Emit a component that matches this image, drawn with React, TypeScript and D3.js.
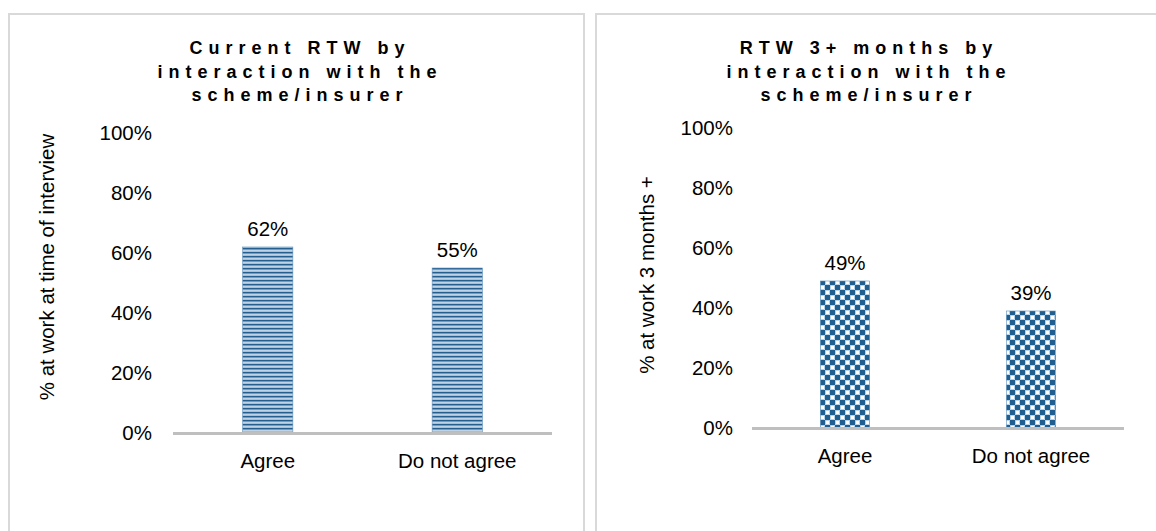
import React from "react";
import * as d3 from "d3";

const categories = ["Agree", "Do not agree"];
const currentRTW = [0.62, 0.55];
const rtw3Months = [0.49, 0.39];
const yTicks = [0, 0.2, 0.4, 0.6, 0.8, 1.0];
const leftTitle = ["Current RTW by", "interaction with the", "scheme/insurer"];
const rightTitle = ["RTW 3+ months by", "interaction with the", "scheme/insurer"];
const leftYLabel = "% at work at time of interview";
const rightYLabel = "% at work 3 months +";

const FONT = "'Liberation Sans', Arial, Helvetica, sans-serif";
const FS = 20.5;

type PanelProps = {
  values: number[];
  title: string[];
  yLabel: string;
  x0: number;
  x1: number;
  yTop: number;
  yBottom: number;
  tickRight: number;
  yLabelX: number;
  yLabelY: number;
  titleX: number;
  fill: string;
};

function Panel(p: PanelProps) {
  const x = d3.scaleBand<string>().domain(categories).range([p.x0, p.x1]).padding(0);
  const y = d3.scaleLinear().domain([0, 1]).range([p.yBottom, p.yTop]);
  const bw = x.step() * 0.265;
  const fmt = d3.format(".0%");
  return (
    <g fontFamily={FONT}>
      {p.title.map((t, i) => (
        <text
          key={i}
          x={p.titleX + 3}
          y={54 + i * 23.5}
          textAnchor="middle"
          fontSize={18}
          fontWeight="bold"
          letterSpacing={6}
          fill="#000"
        >
          {t}
        </text>
      ))}
      {yTicks.map((t) => (
        <text key={t} x={p.tickRight} y={y(t) + 7} textAnchor="end" fontSize={FS} fill="#000">
          {fmt(t)}
        </text>
      ))}
      {categories.map((c, i) => {
        const cx = (x(c) as number) + x.bandwidth() / 2;
        const v = p.values[i];
        return (
          <g key={c}>
            <rect x={cx - bw / 2} y={y(v)} width={bw} height={y(0) - y(v)} fill={p.fill} stroke="#5d8fbb" strokeWidth={0.6} />
            <text x={cx} y={y(v) - 11} textAnchor="middle" fontSize={FS} fill="#000">
              {fmt(v)}
            </text>
            <text x={cx} y={p.yBottom + 35} textAnchor="middle" fontSize={FS} fill="#000">
              {c}
            </text>
          </g>
        );
      })}
      <line x1={p.x0} x2={p.x1} y1={y(0) + 0.5} y2={y(0) + 0.5} stroke="#bfbfbf" strokeWidth={3} />
      <text
        transform={`translate(${p.yLabelX},${p.yLabelY}) rotate(-90)`}
        textAnchor="middle"
        fontSize={FS}
        fill="#000"
      >
        {p.yLabel}
      </text>
    </g>
  );
}

export default function App() {
  return (
    <svg
      width={1156}
      height={531}
      viewBox="0 0 1156 531"
      style={{ position: "absolute", left: 0, top: 0, display: "block", background: "#fff" }}
    >
      <defs>
        <pattern id="stripes" patternUnits="userSpaceOnUse" width={8} height={4}>
          <rect x={0} y={0} width={8} height={4} fill="#f4f8fb" />
          <rect x={0} y={0} width={8} height={1.6} fill="#245f90" />
          <rect x={0} y={1.6} width={8} height={0.8} fill="#6f9cc2" />
          <rect x={0} y={3.2} width={8} height={0.8} fill="#8fb4d3" />
        </pattern>
        <pattern id="checks" patternUnits="userSpaceOnUse" width={10} height={10}>
          <rect x={0} y={0} width={10} height={10} fill="#ffffff" />
          <rect x={0} y={0} width={5} height={5} fill="#1f5e8e" />
          <rect x={5} y={5} width={5} height={5} fill="#1f5e8e" />
          <rect x={5.5} y={0.5} width={4} height={4} fill="none" stroke="#a9c8e0" strokeWidth={0.8} />
          <rect x={0.5} y={5.5} width={4} height={4} fill="none" stroke="#a9c8e0" strokeWidth={0.8} />
        </pattern>
      </defs>
      <rect x={0} y={0} width={1156} height={531} fill="#fff" />
      <rect x={9} y={14} width={575} height={600} fill="#fff" stroke="#d9d9d9" strokeWidth={2} />
      <rect x={596} y={14} width={600} height={600} fill="#fff" stroke="#d9d9d9" strokeWidth={2} />
      <Panel
        values={currentRTW}
        title={leftTitle}
        yLabel={leftYLabel}
        x0={173}
        x1={552}
        yTop={133}
        yBottom={433}
        tickRight={152}
        yLabelX={54}
        yLabelY={267}
        titleX={297}
        fill="url(#stripes)"
      />
      <Panel
        values={rtw3Months}
        title={rightTitle}
        yLabel={rightYLabel}
        x0={752}
        x1={1124}
        yTop={128}
        yBottom={428}
        tickRight={733}
        yLabelX={654}
        yLabelY={275}
        titleX={866}
        fill="url(#checks)"
      />
    </svg>
  );
}
